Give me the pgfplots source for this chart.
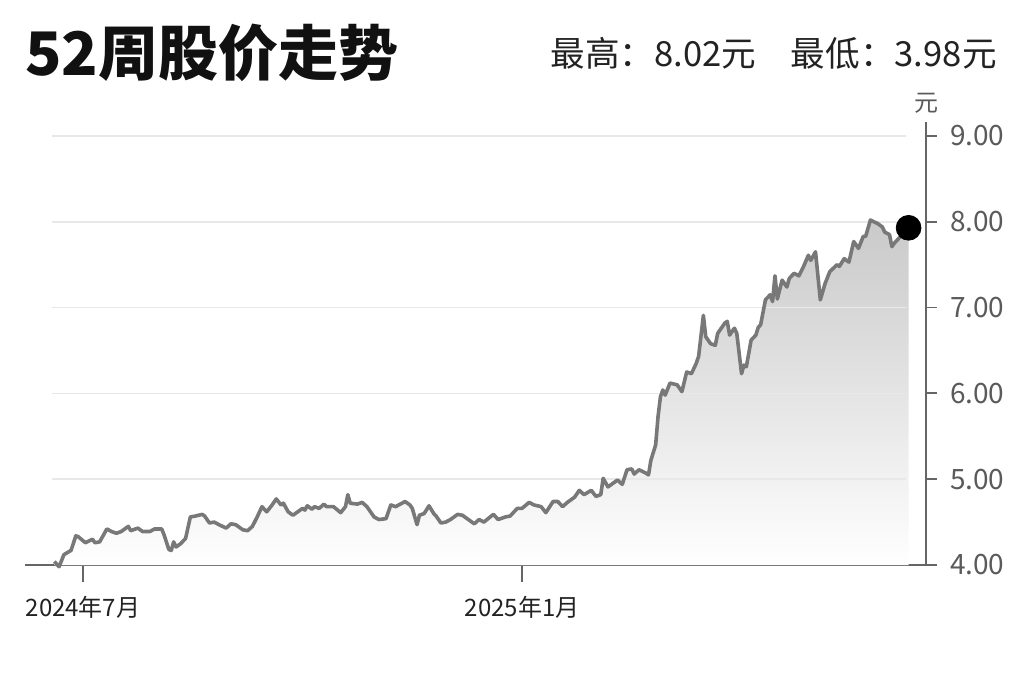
\documentclass[border=0pt]{standalone}
\usepackage{fontspec}
\setmainfont{Noto Sans CJK SC}
\usepackage{pgfplots}
\usepackage{pgfplotstable}
\pgfplotsset{compat=1.18}

\definecolor{titleblack}{HTML}{111111}
\definecolor{textblack}{HTML}{222222}
\definecolor{axisgray}{HTML}{666666}
\definecolor{labelgray}{HTML}{5A5A5A}
\definecolor{gridgray}{HTML}{E8E8E8}
\definecolor{linegray}{HTML}{787878}

% days since 2024-07-01, close price (yuan)
\pgfplotstableread{
d v
-12 4.04
-10 3.98
-8 4.12
-5 4.17
-3 4.34
-2 4.33
1 4.26
4 4.30
5 4.26
7 4.27
10 4.42
12 4.39
14 4.37
16 4.39
19 4.45
20 4.40
23 4.43
25 4.39
28 4.39
30 4.42
33 4.42
34 4.35
36 4.18
37 4.17
38 4.27
39 4.21
41 4.25
43 4.31
45 4.56
47 4.57
50 4.59
51 4.57
53 4.49
55 4.50
57 4.47
60 4.43
62 4.48
64 4.47
67 4.41
69 4.40
71 4.45
73 4.56
75 4.68
77 4.62
79 4.69
81 4.77
83 4.70
84 4.72
86 4.62
88 4.58
90 4.62
92 4.66
93 4.64
94 4.69
96 4.65
97 4.68
99 4.66
101 4.71
102 4.68
105 4.68
108 4.61
110 4.68
111 4.82
112 4.72
115 4.71
117 4.73
119 4.68
122 4.56
124 4.53
127 4.54
129 4.70
131 4.68
133 4.71
135 4.74
137 4.70
138 4.66
140 4.47
141 4.58
143 4.60
145 4.69
147 4.60
148 4.57
150 4.49
152 4.50
154 4.53
157 4.59
159 4.58
161 4.54
164 4.48
166 4.53
168 4.50
172 4.59
174 4.53
177 4.56
179 4.57
182 4.66
184 4.66
187 4.73
189 4.70
192 4.68
194 4.61
197 4.74
199 4.74
201 4.68
203 4.73
206 4.79
208 4.87
210 4.82
213 4.87
215 4.80
217 4.82
218 5.01
220 4.91
222 4.95
224 4.99
226 4.94
228 5.11
230 5.12
231 5.06
233 5.11
236 5.07
237 5.05
238 5.22
240 5.40
241 5.73
242 5.96
243 6.04
244 5.98
246 6.12
249 6.10
250 6.06
251 6.02
253 6.25
255 6.23
257 6.35
258 6.43
260 6.91
261 6.66
263 6.58
265 6.56
266 6.70
269 6.82
270 6.84
271 6.68
273 6.76
274 6.70
276 6.23
277 6.33
278 6.31
280 6.62
282 6.68
283 6.77
284 6.80
286 7.09
288 7.15
289 7.07
290 7.37
291 7.10
293 7.32
295 7.24
296 7.34
298 7.40
300 7.37
302 7.48
304 7.61
305 7.55
307 7.65
309 7.09
311 7.28
313 7.42
316 7.50
317 7.48
319 7.57
321 7.53
323 7.77
325 7.69
327 7.83
328 7.83
330 8.02
333 7.98
335 7.94
336 7.88
338 7.85
339 7.71
340 7.75
342 7.81
344 7.86
346 7.93
}\pricedata

\begin{document}
\begin{tikzpicture}[x=1pt,y=1pt]
\useasboundingbox (0,0) rectangle (512,341);

% titles
\node[anchor=base west, inner sep=0pt, text=titleblack,
  font=\fontsize{30}{30}\selectfont\bfseries] at (12.5,303) {52周股价走势};
\node[anchor=base east, inner sep=0pt, text=textblack,
  font=\fontsize{17.3}{17.3}\selectfont] at (498.5,308)
  {最高：8.02元\hspace{1em}最低：3.98元};
\node[inner sep=0pt, text=labelgray, font=\fontsize{12}{12}\selectfont]
  at (463,289.5) {元};

\begin{axis}[
  at={(12.5pt,58.5pt)}, anchor=south west,
  scale only axis,
  width=450.5pt, height=221.5pt,
  xmin=-24.3, xmax=353.3,
  ymin=4, ymax=9.163,
  axis x line*=bottom, axis y line*=right,
  axis line style={draw=axisgray, line width=0.9pt},
  tick align=outside,
  major tick length=5.5pt,
  xtick=\empty,
  extra x ticks={0,184},
  extra x tick labels={2024年7月,2025年1月},
  extra tick style={major tick length=8.5pt},
  extra x tick style={xticklabel style={yshift=-3.5pt}},
  ytick={4,5,6,7,8,9},
  yticklabels={4.00,5.00,6.00,7.00,8.00,9.00},
  tick style={draw=axisgray, line width=0.9pt},
  xticklabel style={text=textblack, font=\fontsize{12}{12}\selectfont},
  yticklabel style={text=labelgray, font=\fontsize{14}{14}\selectfont, xshift=3pt},
  clip=false,
]
% area under the price line
\addplot[draw=none, top color=black!21, bottom color=white]
  table[x=d, y=v] {\pricedata} -- (axis cs:346,4) -- (axis cs:-12,4) -- cycle;
% horizontal grid lines
\pgfplotsinvokeforeach{5,6,7,8,9}{
  \draw[gridgray, line width=0.8pt] (axis cs:-13,#1) -- (axis cs:345,#1);
}
\addplot[linegray, line width=1.8pt, line join=round, mark=none]
  table[x=d, y=v] {\pricedata};
% latest price
\addplot[only marks, mark=*, mark size=6.2pt, black] coordinates {(346,7.93)};
\end{axis}
\end{tikzpicture}
\end{document}
